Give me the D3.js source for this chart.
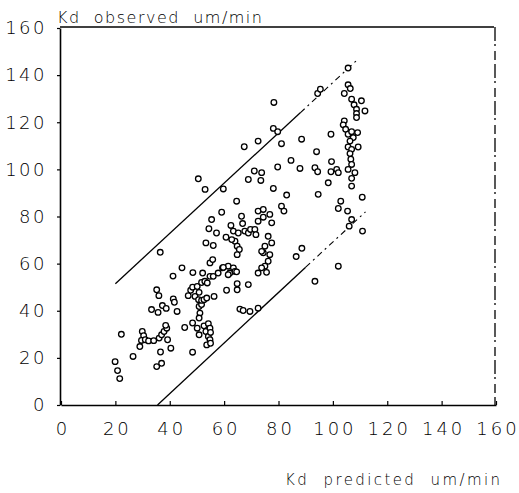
<!DOCTYPE html>
<html><head><meta charset="utf-8">
<script src="https://cdnjs.cloudflare.com/ajax/libs/d3/7.8.5/d3.min.js"></script>
<style>
html,body{margin:0;padding:0;background:#fff;}
svg{display:block;}
</style></head>
<body>
<svg id="c" width="519" height="493"></svg>
<script>
// ---- data ----
const xTicks = [0,20,40,60,80,100,120,140,160];
const yTicks = [0,20,40,60,80,100,120,140,160];
const yTitle = "Kd  observed  um/min";
const xTitle = "Kd  predicted  um/min";
const upperLine = [[20,51.5],[88,124],[109,146.5]];
const lowerLine = [[35.5,0],[90,58.5],[112,82]];
const predicted = [
19.9,20.8,21.6,22.2,26.5,29,29.9,30.4,29.6,31,32.2,34.1,33.3,
35.2,37,36.6,36.1,37,37.9,38.9,38.5,39.2,40.4,36.5,35.2,36,35.7,37.3,38.7,41.3,41.7,42.7,41.2,44.5,45.5,48.4,48.4,48.5,46.8,47.7,48.4,49.3,
50.1,50.8,50.6,50.8,51.7,51.1,50.8,51.7,52.6,51.7,52.9,53.8,52.1,50.1,50.8,52.6,53.3,54.2,54.8,54.2,54.8,53.6,55,55,53.3,54.4,55.4,56,57.2,59.1,54.8,55.8,54.8,56,56.3,53.6,57.8,59.4,50.5,53,59.7,
60.9,60.7,61.5,62.1,62.5,63.4,63.4,64,64.6,64,64.8,65.6,64.8,64.6,65.8,67,64.8,64.8,68.9,66.4,66.8,67.6,68.9,69.7,62.8,65.2,59.7,61.5,69.5,67.4,68.9,
71.3,71.7,72.5,72.5,72.5,72.5,74.4,74.4,76.8,77.5,81.1,82,76.2,77.5,75,74.4,76.8,76.2,75,75.6,73.8,73.8,78.3,78.1,79.7,81.1,88.5,72.5,79.7,84.6,87.9,71.1,73.8,73.5,78.1,83,86.5,88.6,
105.6,94.4,95.4,105.6,106.4,104.2,106.9,110.5,107.8,111.8,108.7,108.7,108.7,104.2,103.8,104.7,105.6,106.9,109.1,107.5,106.3,105.6,106.9,109.3,106.3,106.6,106.9,105.6,108.1,106.9,106.9,110.8,99.3,94,93.4,94.4,99.5,99.3,101.4,102,98.3,94.6,102.9,102,105.4,106.9,106,110.9,102,93.4
];
const observed = [
18.4,14.6,11.2,30,20.6,24.8,31.2,29.4,27.4,27.7,27.2,27.3,40.5,
16.3,17.7,22.5,28.4,29.8,31.2,32.6,33.8,27.7,24.1,64.8,48.9,46.4,39.3,42.2,41,45,43.6,39.7,54.7,58.2,32.9,22.4,34.8,56.2,46.4,48.7,50,46.1,
50.3,47.8,44.7,41.8,42.6,39,36.9,44.4,44.7,52,52.5,51.8,56,32.6,29.8,33.6,31.2,34.5,32.6,29.1,27.7,25.5,26.2,30.8,68.8,74.8,78.7,67.7,73,81.8,60.3,61.7,54.6,54.6,46.1,45.4,56,58.2,96,91.5,91.7,
48.7,71.2,58.9,56,76.2,73.8,58.2,56.7,56.5,69.5,67.4,66,63.8,86.5,40.7,40.1,48.9,51.5,51.1,80.1,77,73.8,73,74.5,70.2,73,58.4,55.3,39.7,109.6,95.7,
74.5,72.3,82.3,41.1,56,78,79.7,83,80.9,77.3,84.4,82.3,71.6,68.8,67.4,64.6,63.8,61,58.9,56.3,58.2,65.2,128.4,117.4,116,110.9,112.8,112,101,103.8,100.4,99.3,98.6,95.3,91.9,89.1,63,66.5,
143,132.2,134,135.9,134.3,132.2,129.8,129.1,127.4,124.8,125.5,123.7,122,120.6,118.9,117,114.9,116,115.6,113.5,112,109.5,108.5,109.5,106.7,104.3,102.1,100,98.6,96.2,92.9,88.2,114.9,107.5,100.7,99,103.3,99,100,98.6,94.3,89.4,86.5,83.4,82.3,78.7,75.9,73.8,58.9,52.5
];

// ---- chart ----
const svg = d3.select("#c");
const x = d3.scaleLinear().domain([0,160]).range([61,496]);
const y = d3.scaleLinear().domain([0,160]).range([405,28]);
const font = "'DejaVu Sans', sans-serif";
const weight = 200;

// frame: top and right
svg.append("line").attr("x1",x(0)-1).attr("x2",x(160)-2).attr("y1",y(160)-1).attr("y2",y(160)-1)
  .attr("stroke","#000").attr("stroke-width",1.4);
svg.append("line").attr("x1",x(160)-1).attr("x2",x(160)-1).attr("y1",y(160)-1).attr("y2",y(0))
  .attr("stroke","#000").attr("stroke-width",1.3).attr("stroke-dasharray","14,3,2,5,9,4");

// x axis
const gx = svg.append("g").attr("transform",`translate(0,${y(0)})`)
  .call(d3.axisBottom(x).tickValues(xTicks).tickSizeInner(-4).tickSizeOuter(0).tickPadding(17));
gx.select(".domain").attr("stroke-width",1.6);
gx.selectAll(".tick line").attr("stroke-width",1.2);
gx.selectAll("text").attr("font-family",font).attr("font-weight",weight).attr("font-size",18).attr("fill","#000")
  .attr("letter-spacing","3px").attr("dx","1.5px");

// y axis
const gy = svg.append("g").attr("transform",`translate(${x(0)-1},0)`)
  .call(d3.axisLeft(y).tickValues(yTicks).tickSizeInner(3).tickSizeOuter(0).tickPadding(13));
gy.select(".domain").attr("stroke-width",1.6);
gy.selectAll(".tick line").attr("stroke-width",1.2);
gy.selectAll("text").attr("font-family",font).attr("font-weight",weight).attr("font-size",18).attr("fill","#000")
  .attr("letter-spacing","2.5px").attr("dx","3px");

// titles
svg.append("text").attr("x",57).attr("y",23).text(yTitle)
  .attr("font-family",font).attr("font-weight",weight).attr("font-size",16).attr("letter-spacing","1.5px").attr("fill","#000")
  .style("white-space","pre");
svg.append("text").attr("x",285).attr("y",485).text(xTitle)
  .attr("font-family",font).attr("font-weight",weight).attr("font-size",15).attr("letter-spacing","2.4px").attr("fill","#000")
  .style("white-space","pre");

// bound lines: solid then broken
const line = d3.line().x(d=>x(d[0])).y(d=>y(d[1]));
[upperLine, lowerLine].forEach(L=>{
  svg.append("path").attr("d",line(L.slice(0,2))).attr("fill","none").attr("stroke","#000").attr("stroke-width",1.3);
  svg.append("path").attr("d",line(L.slice(1))).attr("fill","none").attr("stroke","#000").attr("stroke-width",1.1)
    .attr("stroke-dasharray","6,4,2,4");
});

// points
const pts = predicted.map((p,i)=>[p,observed[i]]);
svg.append("g").selectAll("circle").data(pts).join("circle")
  .attr("cx",d=>x(d[0])).attr("cy",d=>y(d[1])).attr("r",2.8)
  .attr("fill","#fff").attr("stroke","#000").attr("stroke-width",1.3);
</script>
</body></html>
